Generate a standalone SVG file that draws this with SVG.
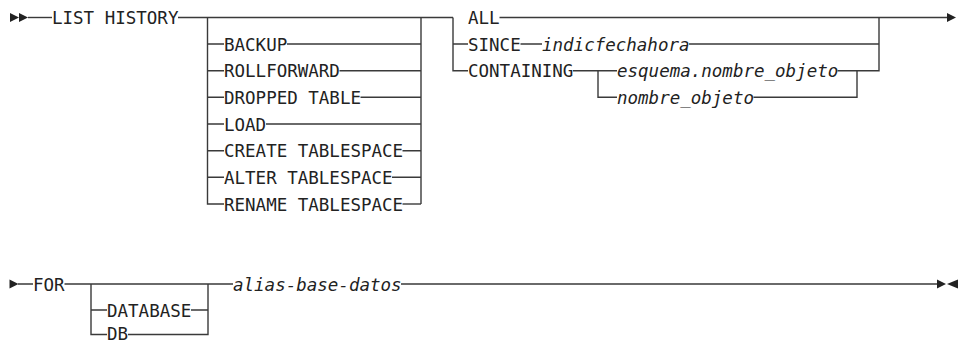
<svg xmlns="http://www.w3.org/2000/svg" xmlns:xlink="http://www.w3.org/1999/xlink" width="965" height="344" viewBox="0 0 965 344">
<style>
text{font-family:"DejaVu Sans Mono","Liberation Mono",monospace;font-size:17.5px;fill:#222}
.v{font-style:italic}
.ln{stroke:#3a3a3a;stroke-width:1.4;fill:none}
.mk{fill:#222}
</style>
<defs>
<path id="tr" d="M0,-4.5 L9,0 L0,4.5 Z"/>
<path id="tl" d="M11,-4.5 L0,0 L11,4.5 Z"/>
</defs>
<rect width="965" height="344" fill="#fff"/>
<g id="connectors" class="ln">
<path d="M28,17.5 H52"/>
<path d="M178,17.5 H453 M499.5,17.5 H947"/>
<path d="M207.5,17.5 V204 H224"/>
<path d="M421,17.5 V204"/>
<path d="M207.5,44 H224 M287,44 H421"/>
<path d="M207.5,70.7 H224 M339.5,70.7 H421"/>
<path d="M207.5,97.3 H224 M360.5,97.3 H421"/>
<path d="M207.5,124 H224 M266,124 H421"/>
<path d="M207.5,150.7 H224 M402.5,150.7 H421"/>
<path d="M207.5,177.3 H224 M392,177.3 H421"/>
<path d="M402.5,204 H421"/>
<path d="M453,17.5 V70.7 H468"/>
<path d="M453,44 H468 M520.5,44 H542 M689,44 H879"/>
<path d="M573,70.7 H617 M837.5,70.7 H879 V17.5"/>
<path d="M598,70.7 V97.3 H617 M753.5,97.3 H857 V70.7"/>
<path d="M18,284 H33 M64.5,284 H233 M401,284 H937"/>
<path d="M91,284 V334.5 H107 M128,334.5 H208 V284"/>
<path d="M91,310 H107 M191,310 H208"/>
</g>
<g id="start1" class="mk"><use xlink:href="#tr" x="10" y="17.5"/><use xlink:href="#tr" x="19" y="17.5"/></g>
<g id="end1" class="mk"><use xlink:href="#tr" x="947" y="17.5"/></g>
<g id="start2" class="mk"><use xlink:href="#tr" x="9.5" y="284"/></g>
<g id="end2" class="mk"><use xlink:href="#tr" x="937" y="284"/><use xlink:href="#tl" x="947" y="284"/></g>
<g id="n-list"><text x="52" y="24">LIST HISTORY</text></g>
<g id="n-backup"><text x="224" y="50.5">BACKUP</text></g>
<g id="n-rollforward"><text x="224" y="77.2">ROLLFORWARD</text></g>
<g id="n-dropped"><text x="224" y="103.8">DROPPED TABLE</text></g>
<g id="n-load"><text x="224" y="130.5">LOAD</text></g>
<g id="n-create"><text x="224" y="157.2">CREATE TABLESPACE</text></g>
<g id="n-alter"><text x="224" y="183.8">ALTER TABLESPACE</text></g>
<g id="n-rename"><text x="224" y="210.5">RENAME TABLESPACE</text></g>
<g id="n-all"><text x="468" y="24">ALL</text></g>
<g id="n-since"><text x="468" y="50.5">SINCE</text></g>
<g id="n-indic"><text class="v" x="542" y="50.5">indicfechahora</text></g>
<g id="n-containing"><text x="468" y="77.2">CONTAINING</text></g>
<g id="n-esquema"><text class="v" x="617" y="77.2">esquema.nombre_objeto</text></g>
<g id="n-nombre"><text class="v" x="617" y="103.8">nombre_objeto</text></g>
<g id="n-for"><text x="33" y="290.5">FOR</text></g>
<g id="n-database"><text x="107" y="316.5">DATABASE</text></g>
<g id="n-db"><text x="107" y="339.5">DB</text></g>
<g id="n-alias"><text class="v" x="233" y="290.5">alias-base-datos</text></g>
</svg>
